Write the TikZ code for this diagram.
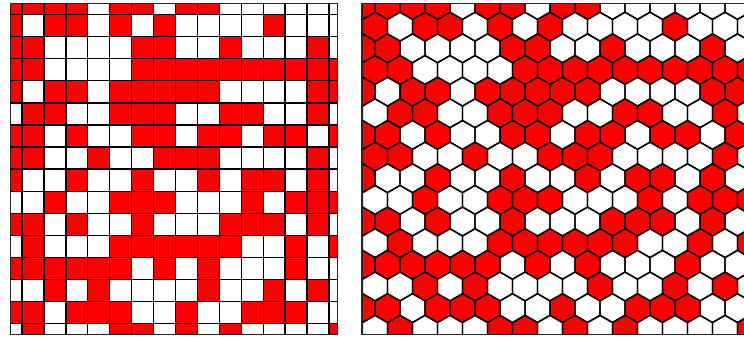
\documentclass[tikz,border=0pt]{standalone}
\definecolor{c0}{rgb}{1,1,1}
\definecolor{c1}{rgb}{1,0,0}
\def\pat{{1,1,1,1,0,1,1,0,1,1,0,0,0,0,0,0},{1,0,1,1,0,1,0,1,0,0,0,0,1,0,0,0},{1,1,0,0,0,0,1,1,0,0,1,0,0,0,1,0},{1,1,0,0,0,0,1,1,1,1,1,1,1,1,1,1},{1,0,1,1,0,1,1,1,1,1,0,0,0,0,1,1},{0,1,1,0,0,1,1,1,0,0,1,1,0,0,1,0},{1,1,0,1,0,0,1,1,0,1,1,0,1,1,0,1},{1,1,0,0,1,0,0,1,1,1,0,0,0,0,1,0},{1,0,0,1,0,0,1,0,0,1,0,1,1,0,1,0},{0,0,1,0,0,1,1,1,0,0,0,1,0,1,1,1},{1,1,0,1,0,0,1,0,0,0,1,1,1,0,1,0},{0,1,0,0,0,1,1,1,1,1,1,0,0,1,0,1},{1,1,1,1,1,1,0,1,0,1,0,0,0,1,0,0},{0,0,1,0,1,0,0,0,0,1,0,0,1,0,1,0},{1,1,0,1,1,1,0,0,1,0,0,1,1,1,0,0},{0,1,0,0,0,1,1,0,1,0,1,0,0,0,0,1}}
\begin{document}
\begin{tikzpicture}[x=1pt,y=-1pt,
  cellline/.style={draw=black,line width=1.4pt,line join=round},
  frameline/.style={draw=black!85,line width=1.2pt}]
\useasboundingbox (0,0) rectangle (744,338);
\fill[white] (0,0) rectangle (744,338);
\clip (0,0) rectangle (744,338);
% square grid
\begin{scope}
\clip (10.7,3.3) rectangle (337.7,334.3);
\foreach \rowl [count=\r from 0] in \pat {
  \foreach \v [count=\c from 0] in \rowl {
    \fill[c\v] ({0.07+21.93*\c},{-7.59+22.09*\r}) rectangle +(21.93,22.09);
  }
}
\foreach \c in {1,...,15} {
  \draw[cellline] ({0.07+21.93*\c},0) -- ({0.07+21.93*\c},338);
}
\foreach \r in {1,...,15} {
  \draw[cellline] (0,{-7.59+22.09*\r}) -- (340,{-7.59+22.09*\r});
}
\end{scope}
\path[frameline] (10.7,3.3) rectangle (337.7,334.3);
% hex grid
\begin{scope}
\clip (362,3.3) rectangle (750,334.3);
\foreach \rowl [count=\r from 0] in \pat {
  \pgfmathsetmacro\xo{isodd(\r)?375:362.5}
  \foreach \v [count=\c from 0] in \rowl {
    \fill[c\v] ({\xo+25*\c},{5+21.65*\r}) +(90:14.43) -- +(150:14.43) -- +(210:14.43) -- +(270:14.43) -- +(330:14.43) -- +(30:14.43) -- cycle;
  }
}
\foreach \rowl [count=\r from 0] in \pat {
  \pgfmathsetmacro\xo{isodd(\r)?375:362.5}
  \foreach \v [count=\c from 0] in \rowl {
    \draw[cellline] ({\xo+25*\c},{5+21.65*\r}) +(90:14.43) -- +(150:14.43) -- +(210:14.43) -- +(270:14.43) -- +(330:14.43) -- +(30:14.43) -- cycle;
  }
}
\end{scope}
\path[frameline] (362,3.3) rectangle (750,334.3);
\end{tikzpicture}
\end{document}
